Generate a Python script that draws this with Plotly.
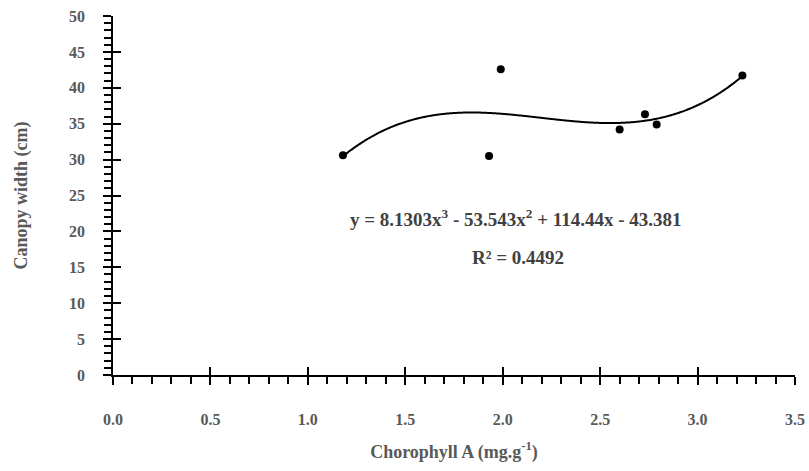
import numpy as np
import plotly.graph_objects as go

chlorophyll_a = [1.18, 1.93, 1.99, 2.60, 2.73, 2.79, 3.23]
canopy_width = [30.6, 30.5, 42.6, 34.2, 36.3, 34.9, 41.7]
trend_coeffs = [8.1303, -53.543, 114.44, -43.381]
x_ticks = [0.0, 0.5, 1.0, 1.5, 2.0, 2.5, 3.0, 3.5]
y_ticks = [0, 5, 10, 15, 20, 25, 30, 35, 40, 45, 50]
equation_text = "y = 8.1303x<sup>3</sup> - 53.543x<sup>2</sup> + 114.44x - 43.381"
r2_text = "R² = 0.4492"

gray = "#595959"
font_family = "Liberation Serif, Times New Roman, serif"

xs = np.linspace(min(chlorophyll_a), max(chlorophyll_a), 300)
ys = np.polyval(trend_coeffs, xs)

fig = go.Figure()
fig.add_trace(go.Scatter(x=xs, y=ys, mode="lines",
                         line=dict(color="black", width=2, shape="spline", simplify=False),
                         hoverinfo="skip"))
fig.add_trace(go.Scatter(x=chlorophyll_a, y=canopy_width, mode="markers",
                         marker=dict(color="black", size=8)))
# invisible trace for overlay axes (inner half of crossing ticks)
fig.add_trace(go.Scatter(x=[0], y=[0], xaxis="x2", yaxis="y2", mode="markers",
                         marker=dict(opacity=0), hoverinfo="skip"))

fig.update_layout(
    width=809, height=471,
    margin=dict(l=113, r=14, t=16, b=96, pad=0, autoexpand=False),
    plot_bgcolor="white", paper_bgcolor="white",
    showlegend=False,
    font=dict(family=font_family),
    xaxis=dict(
        range=[0, 3.5], tickvals=x_ticks, ticktext=[f"{v:.1f}" for v in x_ticks],
        automargin=False,
        showgrid=False, zeroline=False, showline=True, linecolor="black", linewidth=1.5,
        ticks="outside", ticklen=8, tickwidth=1.5, tickcolor="black",
        tickfont=dict(family=font_family, size=16, color=gray, weight="bold"),
        ticklabelstandoff=21,
        minor=dict(dtick=0.1, ticks="outside", ticklen=7, tickwidth=1.5, tickcolor="black", showgrid=False),
        title=dict(text="Chorophyll A (mg.g<sup>-1</sup>)", standoff=18,
                   font=dict(family=font_family, size=18, color=gray, weight="bold")),
    ),
    yaxis=dict(
        range=[0, 50], tickvals=y_ticks,
        automargin=False,
        showgrid=False, zeroline=False, showline=True, linecolor="black", linewidth=1.5,
        ticks="outside", ticklen=8, tickwidth=1.5, tickcolor="black",
        tickfont=dict(family=font_family, size=16, color=gray, weight="bold"),
        ticklabelstandoff=15,
        minor=dict(dtick=1, ticks="outside", ticklen=7, tickwidth=1.5, tickcolor="black", showgrid=False),
        title=dict(text="Canopy width (cm)", standoff=37,
                   font=dict(family=font_family, size=18, color=gray, weight="bold")),
    ),
    xaxis2=dict(range=[0, 3.5], tickvals=x_ticks, overlaying="x", side="bottom",
                automargin=False,
                showticklabels=False, showgrid=False, zeroline=False, showline=False,
                ticks="inside", ticklen=8, tickwidth=1.5, tickcolor="black", anchor="y2"),
    yaxis2=dict(range=[0, 50], tickvals=y_ticks, overlaying="y", side="left",
                automargin=False,
                showticklabels=False, showgrid=False, zeroline=False, showline=False,
                ticks="inside", ticklen=8, tickwidth=1.5, tickcolor="black", anchor="x2"),
    annotations=[
        dict(text=equation_text, x=2.07, y=21.8, xref="x", yref="y", showarrow=False,
             font=dict(family=font_family, size=19, color="#404040", weight="bold")),
        dict(text=r2_text, x=2.08, y=16.4, xref="x", yref="y", showarrow=False,
             font=dict(family=font_family, size=19, color="#404040", weight="bold")),
    ],
)

fig.write_html("out.html")
